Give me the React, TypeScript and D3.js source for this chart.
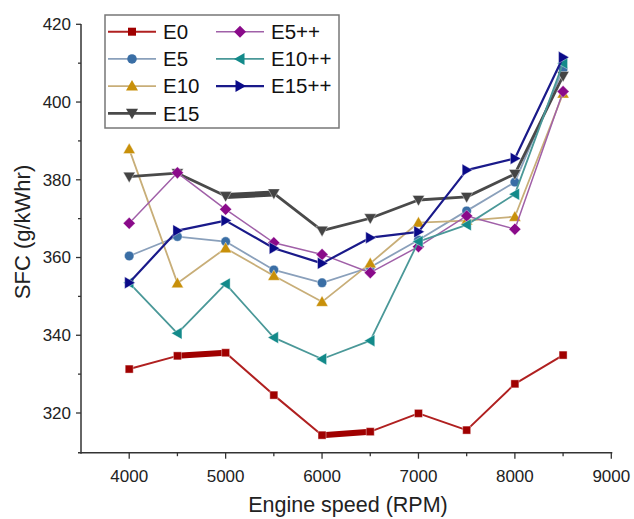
import React from "react";
import * as d3 from "d3";

const rpm = [4000, 4500, 5000, 5500, 6000, 6500, 7000, 7500, 8000, 8500];
const seriesNames = ["E0", "E5", "E10", "E15", "E5++", "E10++", "E15++"];
const E0 = [331.3, 334.7, 335.5, 324.6, 314.3, 315.2, 319.9, 315.6, 327.5, 334.9];
const E5 = [360.4, 365.4, 364.1, 356.8, 353.5, 357.5, 364.5, 372.0, 379.4, 408.5];
const E10 = [387.9, 353.4, 362.4, 355.3, 348.6, 358.5, 369.0, 369.5, 370.5, 402.2];
const E15 = [380.8, 381.7, 375.8, 376.5, 366.9, 370.1, 374.8, 375.6, 381.5, 406.7];
const E5pp = [368.8, 381.8, 372.4, 363.8, 360.8, 356.1, 362.8, 370.7, 367.3, 402.7];
const E10pp = [353.5, 340.5, 353.2, 339.4, 333.9, 338.6, 364.1, 368.4, 376.3, 410.0];
const E15pp = [353.5, 366.9, 369.5, 362.4, 358.5, 365.1, 366.6, 382.5, 385.5, 411.5];
const xTicks = [4000, 5000, 6000, 7000, 8000, 9000];
const xMinorTicks = [4500, 5500, 6500, 7500, 8500];
const yTicks = [320, 340, 360, 380, 400, 420];
const yMinorTicks = [330, 350, 370, 390, 410];

const values = [E0, E5, E10, E15, E5pp, E10pp, E15pp];

type Style = { line: string; marker: string; lw: number; shape: string; size: number; bold: number[] };
const styles: Style[] = [
  { line: "#b02020", marker: "#a00000", lw: 2, shape: "square", size: 8, bold: [1, 4] },
  { line: "#8aa0bb", marker: "#3a6ea5", lw: 1.8, shape: "circle", size: 9.5, bold: [] },
  { line: "#c8ae78", marker: "#c8900a", lw: 1.8, shape: "up", size: 12, bold: [] },
  { line: "#4a4a4a", marker: "#444444", lw: 2.8, shape: "down", size: 12, bold: [2] },
  { line: "#a060a8", marker: "#8a0a8a", lw: 1.5, shape: "diamond", size: 12, bold: [] },
  { line: "#4a9898", marker: "#138a8a", lw: 1.8, shape: "left", size: 12, bold: [] },
  { line: "#1a1a8a", marker: "#0a0a88", lw: 2.2, shape: "right", size: 12, bold: [] },
];

function markerPath(shape: string, s: number): string {
  const h = s / 2;
  switch (shape) {
    case "square":
      return `M${-h},${-h}H${h}V${h}H${-h}Z`;
    case "circle":
      return d3.symbol(d3.symbolCircle, Math.PI * h * h)() as string;
    case "diamond":
      return `M0,${-h}L${h},0L0,${h}L${-h},0Z`;
    case "up":
      return `M0,${-h}L${h},${h * 0.75}L${-h},${h * 0.75}Z`;
    case "down":
      return `M0,${h}L${h},${-h * 0.75}L${-h},${-h * 0.75}Z`;
    case "left":
      return `M${-h},0L${h * 0.75},${-h}L${h * 0.75},${h}Z`;
    case "right":
      return `M${h},0L${-h * 0.75},${-h}L${-h * 0.75},${h}Z`;
  }
  return "";
}

export default function App() {
  const W = 634;
  const H = 519;
  const x = d3.scaleLinear().domain([3500, 9000]).range([81, 611.3]);
  const y = d3.scaleLinear().domain([320, 420]).range([413, 24.3]);
  const yBottom = 452.7;
  const font = "Liberation Sans, Arial, Helvetica, sans-serif";
  const line = d3
    .line<number>()
    .x((_, i) => x(rpm[i]))
    .y((v) => y(v));

  const legendCol = [0, 0, 0, 0, 1, 1, 1];
  const legendRowIdx = [0, 1, 2, 3, 0, 1, 2];
  const colX = [108, 216];

  return (
    <svg width={W} height={H} style={{ position: "absolute", left: 0, top: 0, background: "#fff" }} fontFamily={font}>
      {/* axes */}
      <line x1={81} x2={81} y1={24} y2={yBottom + 1} stroke="#333" strokeWidth={1.5} />
      <line x1={78} x2={x(9000) + 1} y1={yBottom} y2={yBottom} stroke="#333" strokeWidth={1.5} />
      {yTicks.map((t) => (
        <g key={"yt" + t}>
          <line x1={76} x2={81} y1={y(t)} y2={y(t)} stroke="#333" strokeWidth={1.3} />
          <text x={71} y={y(t)} dy="0.35em" textAnchor="end" fontSize={17} fill="#222">
            {t}
          </text>
        </g>
      ))}
      {yMinorTicks.map((t) => (
        <line key={"ym" + t} x1={78} x2={81} y1={y(t)} y2={y(t)} stroke="#333" strokeWidth={1.3} />
      ))}
      {xTicks.map((t) => (
        <g key={"xt" + t}>
          <line x1={x(t)} x2={x(t)} y1={yBottom} y2={yBottom + 6} stroke="#333" strokeWidth={1.3} />
          <text x={x(t)} y={481.5} textAnchor="middle" fontSize={17} fill="#222">
            {t}
          </text>
        </g>
      ))}
      {xMinorTicks.map((t) => (
        <line key={"xm" + t} x1={x(t)} x2={x(t)} y1={yBottom} y2={yBottom + 3.5} stroke="#333" strokeWidth={1.3} />
      ))}
      <text x={348} y={512} textAnchor="middle" fontSize={21.5} fill="#222">
        Engine speed (RPM)
      </text>
      <text transform={`translate(30,${232}) rotate(-90)`} textAnchor="middle" fontSize={22} fill="#222">
        SFC (g/kWhr)
      </text>

      {/* series */}
      {values.map((vals, si) => {
        const st = styles[si];
        return (
          <g key={"s" + si}>
            <path d={line(vals) as string} fill="none" stroke={st.line} strokeWidth={st.lw} strokeLinejoin="round" />
            {st.bold.map((bi) => (
              <line
                key={"b" + bi}
                x1={x(rpm[bi])}
                x2={x(rpm[bi + 1])}
                y1={y(vals[bi])}
                y2={y(vals[bi + 1])}
                stroke={st.marker}
                strokeWidth={6}
              />
            ))}
            {vals.map((v, i) => (
              <path
                key={i}
                d={markerPath(st.shape, st.size)}
                transform={`translate(${x(rpm[i])},${y(v)})`}
                fill={st.marker}
                stroke="#fff"
                strokeWidth={0.4}
              />
            ))}
          </g>
        );
      })}

      {/* legend */}
      <rect x={105} y={15} width={234} height={113} fill="#fff" stroke="#777" strokeWidth={1.5} />
      {seriesNames.map((name, si) => {
        const st = styles[si];
        const ly = 31.7 + legendRowIdx[si] * 27.2;
        const x0 = colX[legendCol[si]];
        return (
          <g key={"l" + si}>
            <line x1={x0} x2={x0 + 48} y1={ly} y2={ly} stroke={st.line} strokeWidth={st.lw} />
            <path d={markerPath(st.shape, st.size)} transform={`translate(${x0 + 24},${ly})`} fill={st.marker} />
            <text x={x0 + 55} y={ly} dy="0.36em" fontSize={20.5} fill="#111">
              {name}
            </text>
          </g>
        );
      })}
    </svg>
  );
}
